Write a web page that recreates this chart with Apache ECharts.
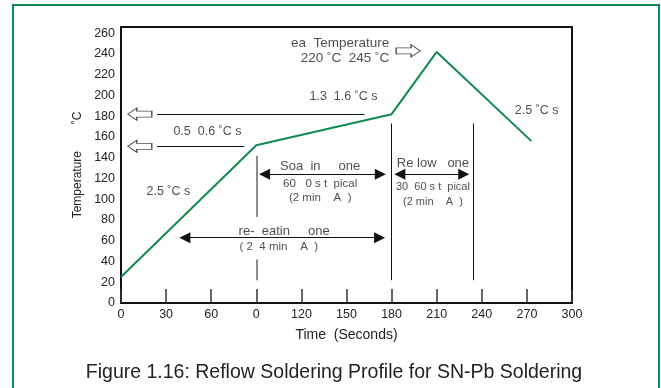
<!DOCTYPE html>
<html>
<head>
<meta charset="utf-8">
<script src="https://cdn.jsdelivr.net/npm/echarts@6/dist/echarts.min.js"></script>
<style>
  html, body { margin: 0; padding: 0; background: #ffffff; }
  #chart { width: 661px; height: 388px; }
</style>
</head>
<body>
<div id="chart"></div>
<script>
// ---- data ----
const profileTime = [0, 90, 180, 210, 273];
const profileTemp = [25, 152, 182, 242, 156];
const xTickValues = [0, 30, 60, 90, 120, 150, 180, 210, 240, 270, 300];
const xTickLabels = ['0', '30', '60', '0', '120', '150', '180', '210', '240', '270', '300'];
const yTickValues = [0, 20, 40, 60, 80, 100, 120, 140, 160, 180, 200, 220, 240, 260];

// zone boundaries (time, from temp, to temp)
const soakBoundaryUpper = [90, 142, 83];
const soakBoundaryLower = [90, 42, 22];
const reflowBoundaries = [180, 234];
const reflowBoundaryTemps = [22, 173];

// double-headed arrows: [fromTime, toTime, temp]
const preheatArrow = [42.5, 172, 63];
const soakArrow = [95.5, 172.5, 124];
const reflowArrow = [185.5, 228, 124];

// leader lines: [fromTime, toTime, temp]
const leaderUpper = [24, 162, 182];
const leaderLower = [24, 82, 151];

// hollow pointer arrows: [time, temp]
const pointerLeft = [[12.5, 182], [12.5, 151]];
const pointerPeak = [[191, 243]];

// annotation texts: text, time, temp, size
const noteTexts = ['ea  Temperature\n220 ˚C  245 ˚C', '1.3  1.6 ˚C s', '0.5  0.6 ˚C s', '2.5 ˚C s', '2.5 ˚C s',
  'Soa  in     one', '60   0 s t  pical', '(2 min    A  )',
  'Re low   one', '30  60 s t  pical', '(2 min    A  )',
  're-  eatin     one', '( 2  4 min    A  )'];
const noteTime = [178.5, 148, 57.5, 31.5, 276.5, 132.5, 132.5, 132.5, 207.5, 207.5, 207.5, 108.5, 105];
const noteTemp = [243.3, 199, 165.6, 107.6, 185.5, 131.3, 114.6, 101.7, 135, 111.9, 97.8, 69.2, 53.8];
const noteSize = [13.5, 12.5, 12.5, 12.5, 12.5, 13, 11.5, 11.5, 13, 11, 11, 13, 11.5];
const noteAlign = ['right', 'center', 'center', 'center', 'center', 'center', 'center', 'center', 'center', 'center', 'center', 'center', 'center'];

const caption = 'Figure 1.16: Reflow Soldering Profile for SN-Pb Soldering';

// ---- styling ----
const GREEN = '#108a50';
const FONT = '"Liberation Sans", Arial, Helvetica, sans-serif';
const TXT = '#222';

const chart = echarts.init(document.getElementById('chart'), null, { renderer: 'canvas' });

function seg(a, b, style, sym) {
  const s = sym || 'none';
  return [
    { coord: a, symbol: s, symbolSize: 11, lineStyle: style },
    { coord: b, symbol: s, symbolSize: 11 }
  ];
}
const grayLine = { color: '#666', width: 1.5, type: 'solid' };
const blackLine = { color: '#111', width: 1, type: 'solid' };

const markLines = [
  seg([soakBoundaryUpper[0], soakBoundaryUpper[1]], [soakBoundaryUpper[0], soakBoundaryUpper[2]], grayLine),
  seg([soakBoundaryLower[0], soakBoundaryLower[1]], [soakBoundaryLower[0], soakBoundaryLower[2]], grayLine),
  seg([reflowBoundaries[0], reflowBoundaryTemps[0]], [reflowBoundaries[0], reflowBoundaryTemps[1]], blackLine),
  seg([reflowBoundaries[1], reflowBoundaryTemps[0]], [reflowBoundaries[1], reflowBoundaryTemps[1]], blackLine),
  seg([leaderUpper[0], leaderUpper[2]], [leaderUpper[1], leaderUpper[2]], blackLine),
  seg([leaderLower[0], leaderLower[2]], [leaderLower[1], leaderLower[2]], blackLine),
  seg([preheatArrow[0], preheatArrow[2]], [preheatArrow[1], preheatArrow[2]], blackLine, 'triangle'),
  seg([soakArrow[0], soakArrow[2]], [soakArrow[1], soakArrow[2]], blackLine, 'triangle'),
  seg([reflowArrow[0], reflowArrow[2]], [reflowArrow[1], reflowArrow[2]], blackLine, 'triangle')
];

const hollowArrowPath = 'path://M0,6 L9,0 L9,3 L24,3 L24,9 L9,9 L9,12 Z';

const notes = noteTexts.map((t, i) => ({
  value: [noteTime[i], noteTemp[i]],
  label: {
    show: true,
    formatter: t,
    fontSize: noteSize[i],
    lineHeight: noteSize[i] + 1,
    align: noteAlign[i],
    verticalAlign: 'middle',
    color: TXT,
    fontFamily: FONT,
    position: 'inside'
  }
}));

chart.setOption({
  animation: false,
  backgroundColor: '#ffffff',
  title: {
    text: caption,
    left: 329,
    textAlign: 'center',
    top: 358,
    textStyle: { fontSize: 19.5, fontWeight: 'normal', color: TXT, fontFamily: FONT }
  },
  graphic: [{
    type: 'rect',
    silent: true,
    shape: { x: 13, y: 5, width: 646, height: 420 },
    style: { fill: 'none', stroke: GREEN, lineWidth: 2 }
  }],
  grid: {
    left: 121, right: 89, top: 27, bottom: 85,
    show: true, borderColor: '#111', borderWidth: 2, backgroundColor: 'transparent'
  },
  xAxis: {
    type: 'value',
    min: 0, max: 300, interval: 30,
    name: 'Time  (Seconds)',
    nameLocation: 'middle',
    nameGap: 25,
    nameTextStyle: { fontSize: 14, color: TXT, fontFamily: FONT },
    axisLine: { show: true, lineStyle: { color: '#111', width: 2 } },
    axisTick: { show: true, inside: true, length: 14, lineStyle: { color: '#333', width: 1.5 } },
    splitLine: { show: false },
    axisLabel: {
      fontSize: 12.5, color: TXT, fontFamily: FONT, margin: 5,
      formatter: v => {
        const i = xTickValues.indexOf(v);
        return i >= 0 ? xTickLabels[i] : '';
      }
    }
  },
  yAxis: {
    type: 'value',
    min: 0, max: 266, interval: 20,
    name: 'Temperature        ˚C',
    nameLocation: 'middle',
    nameGap: 37,
    nameTextStyle: { fontSize: 12, color: TXT, fontFamily: FONT },
    axisLine: { show: true, lineStyle: { color: '#111', width: 2 } },
    axisTick: { show: false },
    splitLine: { show: false },
    axisLabel: {
      fontSize: 12.5, color: TXT, fontFamily: FONT, margin: 6,
      showMaxLabel: false,
      formatter: v => (yTickValues.indexOf(v) >= 0 ? String(v) : '')
    }
  },
  series: [
    {
      type: 'line',
      name: 'Profile',
      data: profileTime.map((t, i) => [t, profileTemp[i]]),
      symbol: 'none',
      lineStyle: { color: GREEN, width: 2 },
      z: 5,
      markLine: {
        silent: true,
        animation: false,
        symbol: ['none', 'none'],
        label: { show: false },
        emphasis: { disabled: true },
        data: markLines
      }
    },
    {
      type: 'scatter',
      name: 'pointers',
      symbol: hollowArrowPath,
      symbolSize: [24, 12],
      symbolKeepAspect: false,
      silent: true,
      itemStyle: { color: '#fff', borderColor: '#222', borderWidth: 1 },
      data: pointerLeft.map(p => ({ value: p }))
        .concat(pointerPeak.map(p => ({ value: p, symbolRotate: 180 }))),
      z: 6
    },
    {
      type: 'scatter',
      name: 'notes',
      symbolSize: 0,
      silent: true,
      itemStyle: { color: 'rgba(0,0,0,0)' },
      data: notes,
      z: 7
    }
  ]
});
</script>
</body>
</html>
